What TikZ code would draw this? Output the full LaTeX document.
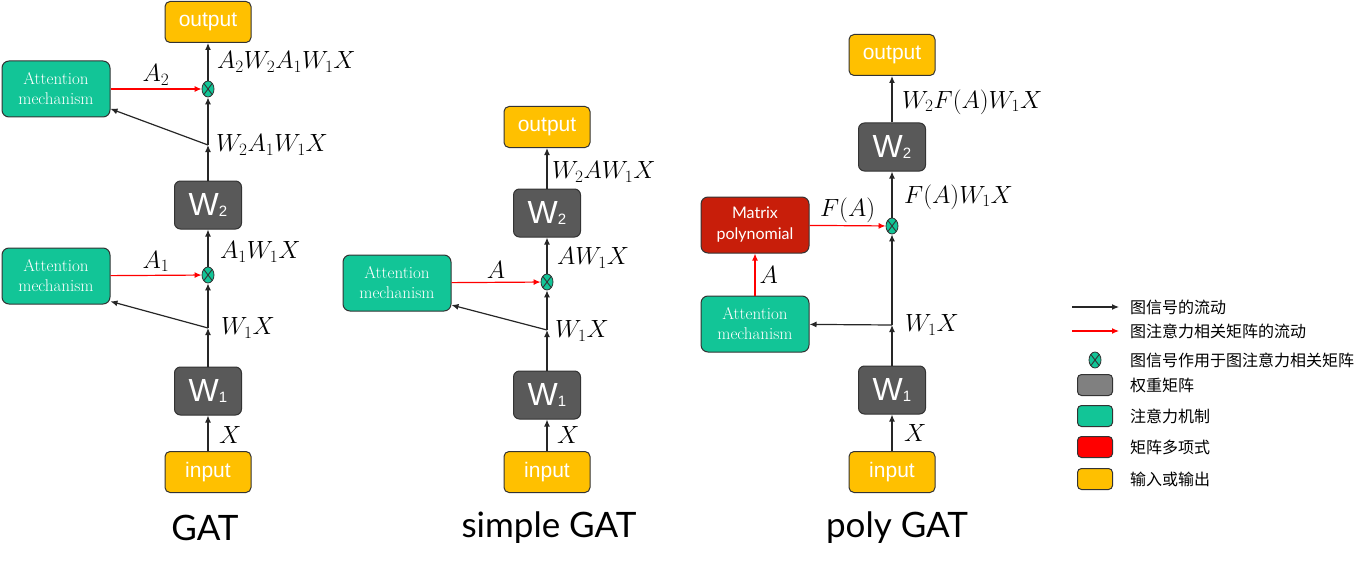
\documentclass[tikz,border=0pt]{standalone}
\usepackage{fontspec}
\usetikzlibrary{arrows.meta,shapes.geometric}
\newfontfamily\cjk{Noto Sans CJK SC}
\newfontfamily\arialf{Liberation Sans}
\newfontfamily\gillf{Lato}
\definecolor{boxgray}{HTML}{595959}
\definecolor{leggray}{HTML}{808080}
\definecolor{attgreen}{HTML}{12C597}
\definecolor{polyred}{HTML}{C81E0A}
\definecolor{ioyellow}{HTML}{FFC000}
\definecolor{edgec}{HTML}{333333}
\newcommand{\wsub}[1]{W\raisebox{-1pt}{\fontsize{15}{15}\selectfont #1}}
\tikzset{
  iobox/.style={draw=edgec, fill=ioyellow, rounded corners=5pt, minimum width=86pt, minimum height=41pt,
    text=white, font=\arialf\fontsize{21}{24}\selectfont, line width=1pt, inner sep=0pt},
  wbox/.style={draw=edgec, fill=boxgray, rounded corners=6pt, minimum width=67pt, minimum height=48pt,
    text=white, font=\arialf\fontsize{32}{34}\selectfont, line width=1pt, inner sep=0pt},
  attbox/.style={draw=edgec, fill=attgreen, rounded corners=7pt, minimum width=108pt, minimum height=56pt,
    text=white, align=center, font=\fontsize{17}{20}\selectfont, line width=1pt, inner sep=0pt},
  polybox/.style={attbox, fill=polyred, font=\gillf\fontsize{16}{21}\selectfont},
  mult/.style={ellipse, draw=edgec, fill=attgreen, minimum width=12pt, minimum height=16pt, inner sep=0pt,
    line width=0.8pt, path picture={\draw[line width=0.9pt]
      (path picture bounding box.north west) -- (path picture bounding box.south east)
      (path picture bounding box.north east) -- (path picture bounding box.south west);}},
  sig/.style={-{Latex[length=7pt,width=6pt]}, line width=1.2pt, draw=black!85},
  attflow/.style={sig, draw=red},
  lbl/.style={font=\fontsize{24}{28}\selectfont, inner sep=0pt},
  title/.style={font=\gillf\fontsize{35}{40}\selectfont},
  legtext/.style={font=\cjk\fontsize{16}{20}\selectfont, anchor=west, inner sep=0pt},
  legbox/.style={draw=edgec, rounded corners=4pt, minimum width=35pt, minimum height=21pt, line width=1pt}
}
\begin{document}
\begin{tikzpicture}[x=1pt,y=-1pt]
\useasboundingbox (0,0) rectangle (1372,575);

% GAT
\node[iobox] (out1) at (208,22) {output};
\node[attbox] (att12) at (56,89) {Attention\\mechanism};
\node[mult] (m12) at (208,89) {};
\coordinate (b12) at (208,145);
\node[wbox] (w12) at (208,205) {\wsub{2}};
\node[attbox] (att11) at (56,276) {Attention\\mechanism};
\node[mult] (m11) at (208,275) {};
\coordinate (b11) at (208,328);
\node[wbox] (w11) at (208,391) {\wsub{1}};
\node[iobox] (in1) at (208,472) {input};
\node[title] at (205,528) {GAT};

\draw[sig] (in1) -- (w11);
\draw[sig] (w11) -- (b11);
\draw[sig] (b11) -- (m11);
\draw[sig] (m11) -- (w12);
\draw[sig] (w12) -- (b12);
\draw[sig] (b12) -- (m12);
\draw[sig] (m12) -- (out1);
\draw[sig] (b11) -- (att11.-25);
\draw[sig] (b12) -- (att12.-20);
\draw[attflow] (att11) -- node[lbl,above=3pt] {$A_1$} (m11);
\draw[attflow] (att12) -- node[lbl,above=3pt] {$A_2$} (m12);
\node[lbl,anchor=west] at (219,435) {$X$};
\node[lbl,anchor=west] at (221,328) {$W_1X$};
\node[lbl,anchor=west] at (220,252) {$A_1W_1X$};
\node[lbl,anchor=west] at (216,145) {$W_2A_1W_1X$};
\node[lbl,anchor=west] at (217,62) {$A_2W_2A_1W_1X$};

% simple GAT
\node[iobox] (out2) at (547,127) {output};
\node[wbox] (w22) at (547,213) {\wsub{2}};
\node[attbox] (att2) at (397,283) {Attention\\mechanism};
\node[mult] (m2) at (547,282) {};
\coordinate (b2) at (547,330);
\node[wbox] (w21) at (547,395) {\wsub{1}};
\node[iobox] (in2) at (547,472) {input};
\node[title] at (549,528) {simple GAT};

\draw[sig] (in2) -- (w21);
\draw[sig] (w21) -- (b2);
\draw[sig] (b2) -- (m2);
\draw[sig] (m2) -- (w22);
\draw[sig] (w22) -- (out2);
\draw[sig] (b2) -- (att2.-22);
\draw[attflow] (att2) -- node[lbl,above=3pt] {$A$} (m2);
\node[lbl,anchor=west] at (557,435) {$X$};
\node[lbl,anchor=west] at (555,331) {$W_1X$};
\node[lbl,anchor=west] at (557,258) {$AW_1X$};
\node[lbl,anchor=west] at (552,172) {$W_2AW_1X$};

% poly GAT
\node[iobox] (out3) at (892,55) {output};
\node[wbox] (w32) at (892,147) {\wsub{2}};
\node[polybox] (poly) at (755,225) {Matrix\\polynomial};
\node[mult] (m3) at (892,226) {};
\node[attbox] (att3) at (755,324) {Attention\\mechanism};
\coordinate (b3) at (892,325);
\node[wbox] (w31) at (892,390) {\wsub{1}};
\node[iobox] (in3) at (892,472) {input};
\node[title] at (897,528) {poly GAT};

\draw[sig] (in3) -- (w31);
\draw[sig] (w31) -- (b3);
\draw[sig] (b3) -- (m3);
\draw[sig] (m3) -- (w32);
\draw[sig] (w32) -- (out3);
\draw[sig] (b3) -- (att3);
\draw[attflow] (att3) -- node[lbl,right=4pt] {$A$} (poly);
\draw[attflow] (poly) -- node[lbl,above=2pt] {$F(A)$} (m3);
\node[lbl,anchor=west] at (904,433) {$X$};
\node[lbl,anchor=west] at (905,325) {$W_1X$};
\node[lbl,anchor=west] at (904,197) {$F(A)W_1X$};
\node[lbl,anchor=west] at (902,102) {$W_2F(A)W_1X$};

% legend
\coordinate (ls1) at (1072,307);
\coordinate (le1) at (1119,307);
\coordinate (ls2) at (1072,331);
\coordinate (le2) at (1119,331);
\draw[sig] (ls1) -- (le1);
\draw[attflow] (ls2) -- (le2);
\node[mult] (lm) at (1095,360) {};
\node[legbox, fill=leggray] (lg1) at (1095,385) {};
\node[legbox, fill=attgreen] (lg2) at (1095,416) {};
\node[legbox, fill=red] (lg3) at (1095,447) {};
\node[legbox, fill=ioyellow] (lg4) at (1095,479) {};
\node[legtext] at (1130,307) {图信号的流动};
\node[legtext] at (1130,331) {图注意力相关矩阵的流动};
\node[legtext] at (1130,360) {图信号作用于图注意力相关矩阵};
\node[legtext] at (1130,385) {权重矩阵};
\node[legtext] at (1130,416) {注意力机制};
\node[legtext] at (1130,447) {矩阵多项式};
\node[legtext] at (1130,479) {输入或输出};
\end{tikzpicture}
\end{document}
